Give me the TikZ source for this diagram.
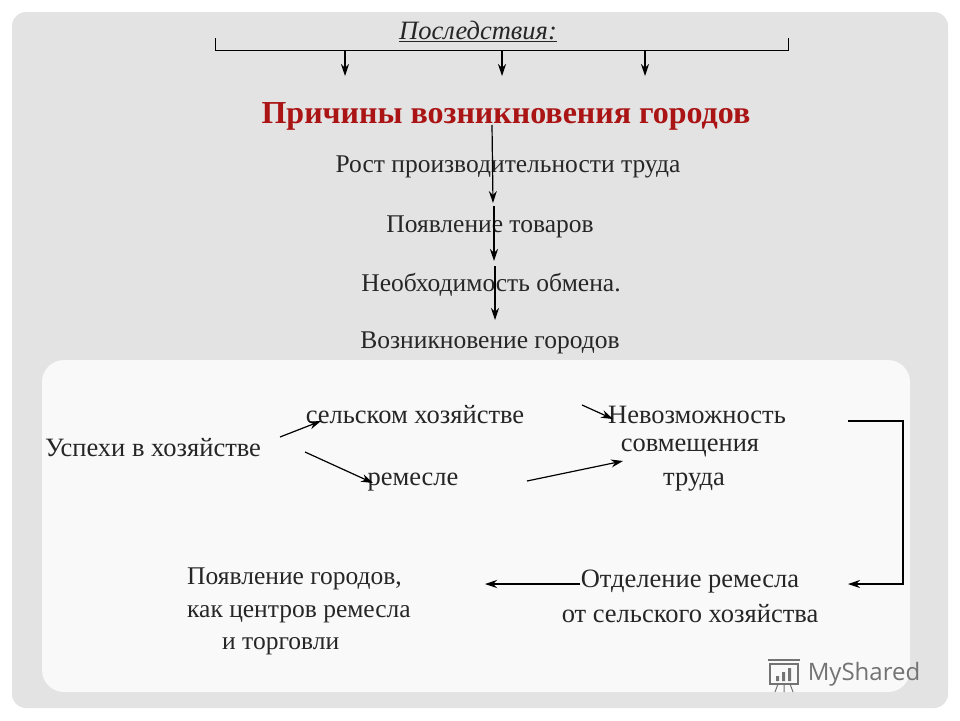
\documentclass[tikz,border=0pt]{standalone}
\usepackage{fontspec}
\usetikzlibrary{arrows.meta}
\setmainfont{Liberation Serif}
\newfontfamily\logofont{Open Sans}
\begin{document}
\begin{tikzpicture}[x=1pt,y=-1pt,
  txt/.style={font=\fontsize{25.5}{30}\selectfont, inner sep=0pt, text=black!85, yshift=-4pt},
  low/.style={txt, font=\fontsize{26.5}{30}\selectfont},
  arr/.style={-{Stealth[length=12pt,width=8pt]}, line width=1.2pt}]
\useasboundingbox (0,0) rectangle (960,720);
\fill[white] (0,0) rectangle (960,720);
\fill[gray!22, rounded corners=14pt] (12,12) rectangle (948,708);
\fill[gray!5, rounded corners=22pt] (42,360) rectangle (910,692);
\node[txt, font=\fontsize{26.5}{30}\selectfont\itshape] (cons) at (478,27) {\underline{Последствия:}};
\coordinate (bl) at (215,38); \coordinate (br) at (788,38);
\draw[line width=0.8pt] (bl) -- (215,50) -- (788,50) -- (br);
\coordinate (t1) at (345,50); \coordinate (t2) at (502,50); \coordinate (t3) at (645,50);
\coordinate (h1) at (345,76); \coordinate (h2) at (502,76); \coordinate (h3) at (645,76);
\draw[arr] (t1) -- (h1); \draw[arr] (t2) -- (h2); \draw[arr] (t3) -- (h3);
\node[txt, font=\fontsize{32}{36}\selectfont\bfseries, text={rgb,255:red,170;green,20;blue,20}] (title) at (506,112) {Причины возникновения городов};
\node[txt] (a) at (508,163) {Рост производительности труда};
\node[txt] (b) at (490,223) {Появление товаров};
\node[txt] (c) at (491,281) {Необходимость обмена.};
\node[txt] (d) at (490,339) {Возникновение городов};
\coordinate (v0) at (492,125); \coordinate (v1) at (493,203);
\coordinate (v2) at (494,206); \coordinate (v3) at (494,261);
\coordinate (v4) at (495,266); \coordinate (v5) at (495,320);
\draw[arr] (v0) -- (v1); \draw[arr] (v2) -- (v3); \draw[arr] (v4) -- (v5);
\node[low] (u) at (153,444) {Успехи в хозяйстве};
\node[low] (s) at (415,411) {сельском хозяйстве};
\node[low] (r) at (413,478) {ремесле};
\node[low] (n1) at (697,411) {Невозможность};
\node[low] (n2) at (690,444) {совмещения};
\node[low] (n3) at (694,478) {труда};
\draw[arr] (280,437) -- (321,421);
\draw[arr] (305,452) -- (373,483);
\draw[arr] (527,481) -- (623,461);
\draw[arr] (582,405) -- (613,419);
\node[low] (o1) at (690,578) {Отделение ремесла};
\node[low] (o2) at (690,610) {от сельского хозяйства};
\node[txt, align=left, anchor=north west, font=\fontsize{25.5}{32.5}\selectfont] (p) at (187,564) {Появление городов,\\как центров ремесла\\\hspace*{35pt}и торговли};
\draw[arr] (848,421) -- (903,421) -- (903,584) -- (848,584);
\draw[arr] (580,584) -- (485,584);
\node[font=\logofont\fontsize{24}{28}\selectfont, text=gray!90!black, inner sep=0pt] (logo) at (864,674) {MyShared};
\draw[gray!90!black, line width=1.2pt] (770,664) rectangle (798,684);
\draw[gray!90!black, line width=1.2pt] (768,660) -- (800,660);
\fill[gray!90!black] (776,676) rectangle (779,681) (782,672) rectangle (785,681) (788,668) rectangle (791,681);
\draw[gray!90!black, line width=1pt] (778,684) -- (775,692) (790,684) -- (793,692) (784,684) -- (784,692);
\end{tikzpicture}
\end{document}
